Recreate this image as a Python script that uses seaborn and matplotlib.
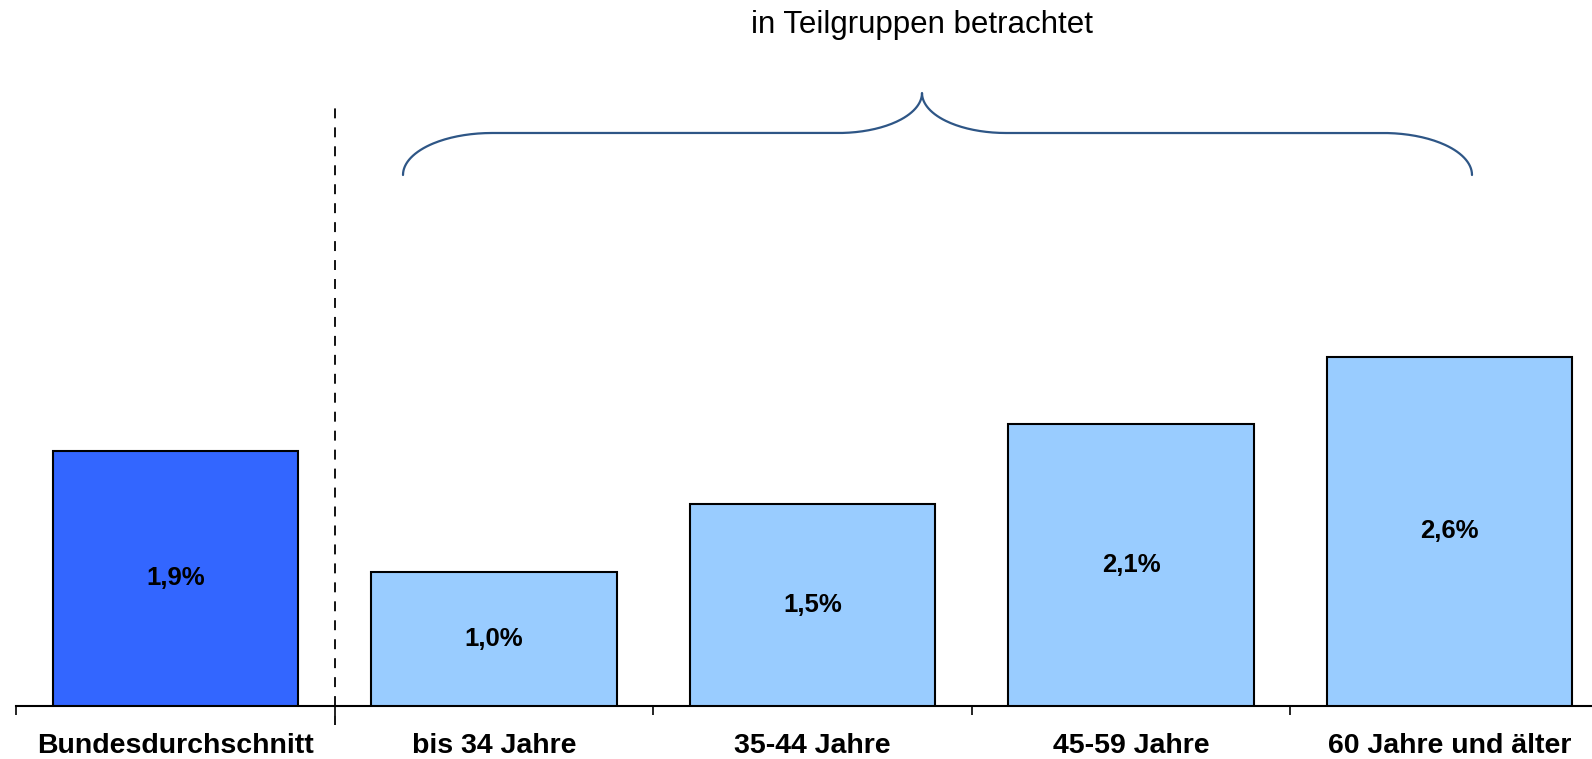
import numpy as np
import pandas as pd
import matplotlib
matplotlib.use("Agg")
import matplotlib.pyplot as plt
import seaborn as sns

# ---- data ----
categories = ["Bundesdurchschnitt", "bis 34 Jahre", "35-44 Jahre", "45-59 Jahre", "60 Jahre und älter"]
values = [1.9, 1.0, 1.5, 2.1, 2.6]
value_labels = ["1,9%", "1,0%", "1,5%", "2,1%", "2,6%"]
bar_colors = ["#3366FF", "#99CCFF", "#99CCFF", "#99CCFF", "#99CCFF"]
group_title = "in Teilgruppen betrachtet"

sns.set_style("white")
plt.rcParams["font.family"] = ["Liberation Sans", "DejaVu Sans"]

W, H = 1592, 759
fig = plt.figure(figsize=(W / 100, H / 100), dpi=100)

def fx(x):
    return x / W

def fy(y):
    return 1 - y / H

# axes geometry (pixels)
ax_left_px, ax_base_px = 16, 706
cat_w = 318.6
unit_px = 134.4
ymax = 5.0
ax = fig.add_axes([fx(ax_left_px), fy(ax_base_px), 1 - fx(ax_left_px), unit_px * ymax / H])

df = pd.DataFrame({"cat": categories, "val": values})
sns.barplot(data=df, x="cat", y="val", hue="cat", palette=bar_colors, legend=False,
            width=0.77, edgecolor="black", linewidth=1.5, saturation=1, ax=ax, zorder=3)

for i, (v, lab) in enumerate(zip(values, value_labels)):
    ax.text(i, v / 2, lab, ha="center", va="center", fontsize=18.5, fontweight="bold", color="black")

# spines / ticks
for s in ["top", "right", "left"]:
    ax.spines[s].set_visible(False)
ax.spines["bottom"].set_linewidth(1.5)
ax.spines["bottom"].set_color("black")
ax.set_yticks([])
ax.set_ylabel("")
ax.set_xlabel("")
ax.set_xticks(np.arange(len(categories) + 1) - 0.5)
ax.set_xticklabels([])
ax.tick_params(axis="x", which="major", direction="out", length=6.5, width=1.2, color="black", bottom=True)
ax.set_xticks(np.arange(len(categories)), minor=True)
ax.set_xticklabels(categories, minor=True, fontsize=20.5, fontweight="bold", color="black")
ax.tick_params(axis="x", which="minor", length=0, pad=19.5, labelcolor="black")

# dashed separator
ax.plot([0.5, 0.5], [(ax_base_px - 725) / unit_px, (ax_base_px - 102) / unit_px],
        color="black", lw=1.3, linestyle=(0, (5.5, 5.0)), clip_on=False, zorder=4)
ax.set_xlim(-0.5, -0.5 + (W - ax_left_px) / cat_w)
ax.set_ylim(0, ymax)

# curly brace (figure pixel coordinates)
brace_color = "#2E5686"
def quarter(cx, cy, rx, ry, a0, a1):
    t = np.linspace(a0, a1, 60)
    return cx + rx * np.cos(t), cy + ry * np.sin(t)

xl, xr, xc = 403, 1472, 922
y_end, y_mid, y_top = 175, 133, 93
rx_end, rx_mid = 89, 84
pts_x, pts_y = [], []
x1, y1 = quarter(xl + rx_end, y_end, rx_end, y_end - y_mid, np.pi, 1.5 * np.pi)
pts_x += list(x1); pts_y += list(y1)
x2, y2 = quarter(xc - rx_mid, y_top, rx_mid, y_mid - y_top, 0.5 * np.pi, 0)
pts_x += list(x2); pts_y += list(y2)
x3, y3 = quarter(xc + rx_mid, y_top, rx_mid, y_mid - y_top, np.pi, 0.5 * np.pi)
pts_x += list(x3); pts_y += list(y3)
x4, y4 = quarter(xr - rx_end, y_end, rx_end, y_end - y_mid, 1.5 * np.pi, 2 * np.pi)
pts_x += list(x4); pts_y += list(y4)
fig.add_artist(plt.Line2D([fx(p) for p in pts_x], [fy(p) for p in pts_y],
                          color=brace_color, lw=1.6, transform=fig.transFigure))

fig.text(fx(922), fy(25), group_title, ha="center", va="center", fontsize=22.5, color="black")

fig.savefig("out.png", dpi=100)
